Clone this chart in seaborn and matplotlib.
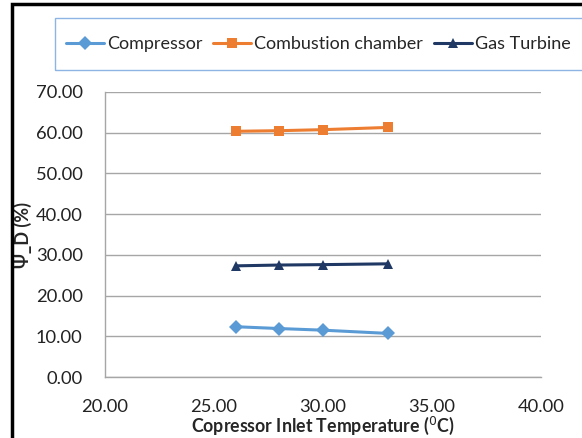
import matplotlib
matplotlib.use("Agg")
import matplotlib.pyplot as plt
import seaborn as sns
import pandas as pd
from matplotlib.patches import Rectangle

temperature = [26, 28, 30, 33]
compressor = [12.35, 11.9, 11.5, 10.7]
combustion = [60.35, 60.5, 60.75, 61.3]
gas_turbine = [27.3, 27.5, 27.6, 27.8]
series_names = ["Compressor", "Combustion chamber", "Gas Turbine"]
x_ticks = [20, 25, 30, 35, 40]
y_ticks = [0, 10, 20, 30, 40, 50, 60, 70]

df = pd.DataFrame({
    "T": temperature * 3,
    "val": compressor + combustion + gas_turbine,
    "series": [series_names[0]] * 4 + [series_names[1]] * 4 + [series_names[2]] * 4,
})

sns.set_theme(style="white")
plt.rcParams["font.family"] = ["Lato", "DejaVu Sans"]

fig = plt.figure(figsize=(5.82, 4.38), dpi=100)
ax = fig.add_axes([105 / 582, 1 - 377 / 438, (541 - 105) / 582, (377 - 92) / 438])

palette = {"Compressor": "#5B9BD5", "Combustion chamber": "#ED7D31", "Gas Turbine": "#1F3864"}
markers = {"Compressor": "D", "Combustion chamber": "s", "Gas Turbine": "^"}
sns.lineplot(data=df, x="T", y="val", hue="series", style="series", palette=palette,
             markers=markers, dashes=False, markersize=7, linewidth=2.2,
             markeredgewidth=0, ax=ax, legend=True)

ax.set_xlim(20, 40)
ax.set_ylim(0, 70)
ax.set_xticks(x_ticks)
ax.set_xticklabels([f"{v:.2f}" for v in x_ticks], fontsize=13.2, color="#222222")
ax.set_yticks(y_ticks)
ax.set_yticklabels([f"{v:.2f}" for v in y_ticks], fontsize=13.2, color="#222222")
ax.tick_params(axis="y", length=0, pad=16)
ax.tick_params(axis="x", length=0, pad=16)
ax.yaxis.grid(True, color="#A6A6A6", linewidth=1)
ax.xaxis.grid(False)
for s in ["top", "right"]:
    ax.spines[s].set_visible(False)
for s in ["left", "bottom"]:
    ax.spines[s].set_color("#A6A6A6")
    ax.spines[s].set_linewidth(1)

ax.set_xlabel("Copressor Inlet Temperature ($^0$C)", fontsize=12.8, fontweight="bold", labelpad=0)
ax.set_ylabel("Ψ_D (%)", fontsize=13, fontweight="bold")
ax.yaxis.set_label_coords((32 - 105) / 436, 0.5)

handles, labels = ax.get_legend_handles_labels()
ax.get_legend().remove()
leg = fig.legend(handles, labels, loc="center left",
                 bbox_to_anchor=(66 / 582, 1 - 44 / 438),
                 ncol=3, fontsize=13, frameon=False, borderpad=0,
                 handlelength=2.1, handletextpad=0.17, columnspacing=0.6, borderaxespad=0)

fig.patches.append(Rectangle((55 / 582, 1 - 70 / 438), 1.0, 52 / 438, transform=fig.transFigure,
                             fill=False, edgecolor="#8EB4E3", linewidth=1, zorder=5))
fig.patches.append(Rectangle((12 / 582, -0.05), 1.1, 1 - 4 / 438 + 0.05, transform=fig.transFigure,
                             fill=False, edgecolor="black", linewidth=2.5, zorder=10))

fig.savefig("out.png", dpi=100)
